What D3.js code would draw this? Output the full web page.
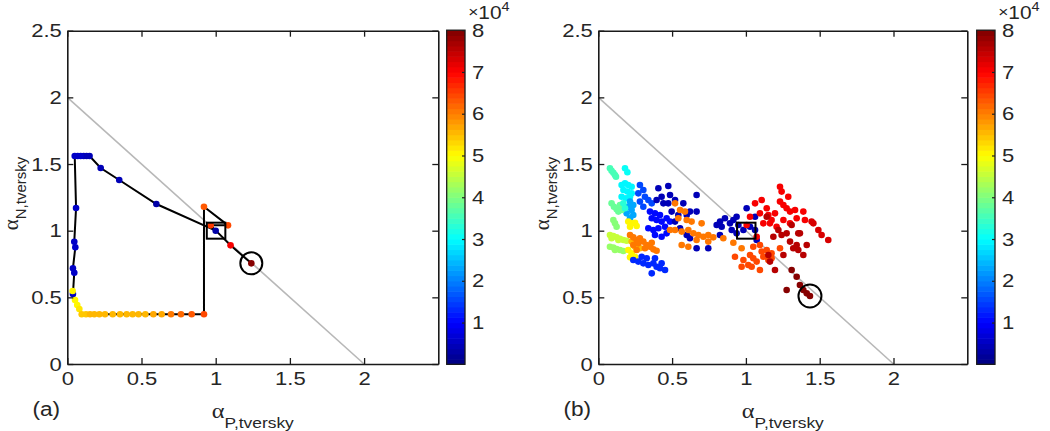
<!DOCTYPE html>
<html><head><meta charset="utf-8">
<script src="https://cdn.jsdelivr.net/npm/d3@7"></script>
<style>body{margin:0;background:#fff}</style>
</head><body>
<svg id="c" width="1050" height="431"></svg>
<script>
// ---------- data ----------
const xTicks = [0, 0.5, 1, 1.5, 2];
const yTicks = [0, 0.5, 1, 1.5, 2, 2.5];
const cbTicks = [1, 2, 3, 4, 5, 6, 7, 8];          // colorbar, in units of 1e4
const refLineX = [0, 2], refLineY = [2, 0];
const boxX = [0.94, 1.065], boxY = [0.94, 1.06];
const endA = [1.24, 0.755], endB = [1.434, 0.51];

// panel (a): trajectory, in order; value = iteration (x1e4)
const pathX = [1.00,0.60,0.35,0.225,0.15,0.13,0.11,0.09,0.07,0.05,0.059,0.047,0.054,0.038,0.047,0.038,
  0.036,0.052,0.067,0.081,
  0.097,0.126,0.153,0.182,0.216,0.254,0.306,0.355,0.40,0.44,0.48,0.526,0.58,0.636,0.699,0.766,0.838,0.921,
  0.921,1.083,0.966,1.10,1.24];
const pathY = [1.00,1.20,1.38,1.47,1.56,1.56,1.56,1.56,1.56,1.56,1.17,0.917,0.875,0.718,0.685,0.525,
  0.548,0.48,0.443,0.413,
  0.373,0.373,0.373,0.373,0.373,0.373,0.373,0.373,0.373,0.373,0.373,0.373,0.373,0.373,0.373,0.373,0.373,0.373,
  1.18,1.04,1.04,0.89,0.755];
const pathV = [0.3,0.35,0.4,0.4,0.45,0.45,0.45,0.5,0.5,0.5,0.5,0.55,0.55,0.6,0.6,0.6,
  5.0,5.05,5.1,5.15,
  5.45,5.47,5.5,5.5,5.52,5.54,5.55,5.56,5.58,5.6,5.6,5.62,5.65,5.7,6.1,6.2,6.3,6.4,
  6.25,6.4,6.6,7.0,7.9];

// panel (b): scatter groups [alphaP, alphaN]
const sAqua = [[0.079,1.468],[0.090,1.45],[0.102,1.435],[0.113,1.418],[0.120,1.405]];
const sCyan = [[0.181,1.468],[0.197,1.438]];
const sCyan2 = [[0.158,1.343],[0.181,1.355],[0.203,1.343],[0.226,1.33],[0.170,1.305],[0.197,1.293],[0.226,1.28],[0.158,1.255],[0.188,1.243],[0.215,1.255]];
const sSky = [[0.215,1.218],[0.237,1.193],[0.203,1.18],[0.226,1.155],[0.192,1.13],[0.237,1.118],[0.215,1.093]];
const sGreen = [[0.090,1.205],[0.106,1.18],[0.124,1.16],[0.147,1.193],[0.136,1.143],[0.158,1.155]];
const sTeal = [[0.170,1.205],[0.181,1.168]];
const sGreen2 = [[0.102,1.08],[0.113,1.055],[0.124,1.03]];
const sYellow = [[0.203,1.068],[0.226,1.055],[0.249,1.06],[0.215,1.03],[0.260,1.035]];
const sBlueA = [[0.282,1.343],[0.305,1.305],[0.271,1.28],[0.316,1.255],[0.282,1.218],[0.339,1.23],[0.305,1.18],[0.362,1.205]];
const sLime = [[0.079,0.968],[0.102,0.96],[0.124,0.95],[0.147,0.94],[0.170,0.93],[0.192,0.925],[0.090,0.943],[0.136,0.93]];
const sLime2 = [[0.079,0.88],[0.102,0.873],[0.124,0.863],[0.147,0.855],[0.170,0.848],[0.113,0.855]];
const sYellow2 = [[0.203,0.855],[0.226,0.83],[0.249,0.805],[0.215,0.8]];
const sGold = [[0.226,0.918],[0.249,0.88],[0.282,0.868]];
const sOrangeA = [[0.215,0.968],[0.237,0.95],[0.260,0.93],[0.282,0.943],[0.305,0.918],[0.328,0.893],[0.350,0.88],[0.373,0.86],[0.395,0.85],[0.271,0.905],[0.237,0.893],[0.260,0.855],[0.316,0.868],[0.362,0.91]];
const sBlueB = [[0.237,0.78],[0.271,0.768],[0.305,0.755],[0.339,0.743],[0.373,0.755],[0.395,0.73],[0.418,0.718],[0.452,0.705],[0.362,0.68],[0.328,0.793],[0.294,0.805],[0.384,0.793],[0.429,0.755]];
const sBlueC = [[0.350,1.143],[0.384,1.13],[0.418,1.118],[0.362,1.093],[0.395,1.08],[0.429,1.068],[0.463,1.093],[0.486,1.068],[0.452,1.03],[0.407,1.018],[0.373,1.005],[0.339,1.018],[0.384,0.968],[0.429,0.955],[0.463,0.98]];
const sNavy = [[0.407,1.318],[0.474,1.335],[0.429,1.255],[0.486,1.268],[0.441,1.205],[0.395,1.23],[0.474,1.205],[0.520,1.23],[0.576,1.205],[0.497,1.143],[0.542,1.118],[0.599,1.118],[0.666,1.268],[0.666,1.143],[0.520,1.068],[0.554,1.018],[0.599,0.968],[0.621,0.943],[0.666,0.868],[0.745,0.868],[0.802,1.043],[0.825,1.068],[0.858,1.093],[0.836,1.03],[0.621,1.143],
  [0.892,1.055],[0.915,1.08],[0.937,1.105],[1.005,1.168],[1.062,1.105],[0.983,1.005],[1.028,1.03],[1.062,1.005],[1.073,0.93],[0.937,0.98],[0.824,0.968],[0.949,1.043],[0.904,1.005]];
const sOrangeB = [[0.520,1.205],[0.554,1.155],[0.587,1.143],[0.542,1.093],[0.599,1.08],[0.632,1.068],[0.700,1.055],[0.486,1.005],[0.520,1.005],[0.565,0.993],[0.610,1.005],[0.644,0.98],[0.678,0.968],[0.712,0.955],[0.745,0.968],[0.779,0.95],[0.565,0.893],[0.610,0.88],[0.666,0.93],[0.745,0.918],[0.847,0.943],[0.915,0.91],[0.971,0.868]];
const sRedOrange = [[0.926,0.805],[0.983,0.78],[1.028,0.818],[1.050,0.793],[1.073,0.768],[1.016,0.743],[1.039,0.73],[1.095,0.705],[1.107,0.843],[1.141,0.855],[1.174,0.83],[1.050,0.88],[1.095,0.893],[1.118,0.805],[1.152,0.78],[0.971,0.73],[1.231,0.868],[1.174,0.793]];
const sRed = [[1.062,1.205],[1.107,1.23],[1.141,1.168],[1.152,1.118],[1.174,1.08],[1.163,1.055],[1.095,1.13],[1.197,1.13],[1.231,1.33],[1.242,1.293],[1.287,1.255],[1.231,1.218],[1.254,1.193],[1.276,1.168],[1.299,1.143],[1.333,1.155],[1.344,1.093],[1.254,1.08],[1.208,1.03],[1.299,1.055],[1.389,1.143],[1.400,1.08],[1.005,1.043],[1.028,1.105],[1.118,1.055],[1.073,0.955]];
const sRed2 = [[1.445,1.068],[1.457,1.055],[1.491,1.005],[1.513,0.968],[1.558,0.93]];
const sDarkRed = [[1.141,1.105],[1.220,1.005],[1.242,0.968],[1.276,0.98],[1.310,1.043],[1.355,0.98],[1.299,0.918],[1.344,0.893],[1.366,0.98],[1.186,0.955],[1.152,0.818],[1.163,0.768],[1.197,0.705],[1.254,0.818],[1.321,0.868],[1.355,0.855],[1.389,0.818],[1.412,0.893]];
const sMaroon = [[1.310,0.705],[1.344,0.655],[1.366,0.593],[1.389,0.555],[1.412,0.53],[1.434,0.51],[1.276,0.555]];
const groupValues = [3.6,3.0,2.9,2.3,3.8,3.3,4.0,5.0,1.5,4.5,4.2,5.1,5.5,6.0,1.3,1.0,0.45,6.0,6.4,7.0,7.3,7.6,7.95];
const groups = [sAqua,sCyan,sCyan2,sSky,sGreen,sTeal,sGreen2,sYellow,sBlueA,sLime,sLime2,sYellow2,sGold,sOrangeA,sBlueB,sBlueC,sNavy,sOrangeB,sRedOrange,sRed,sRed2,sDarkRed,sMaroon];

// ---------- drawing ----------
const W = 1050, H = 431;
const FONT = "'Liberation Sans', Arial, Helvetica, sans-serif";
const SERIF = "'Liberation Serif', 'Times New Roman', serif";
const SX = 1.16, FS = 19, INK = "#262626", MR = 3.3;
const svg = d3.select("#c");
svg.append("rect").attr("width", W).attr("height", H).attr("fill", "#fff");

const jetBase = d3.scaleLinear().domain([0,1,3,5,7,8])
  .range(["#00007f","#0000ff","#00ffff","#ffff00","#ff0000","#7f0000"]).clamp(true);
const jet = v => { const i = Math.min(63, Math.max(0, Math.floor(v / 8 * 64))); return jetBase((i + 0.5) * 8 / 64); };

function stretch(sel) {
  sel.each(function () {
    const t = d3.select(this);
    const x = +t.attr("x") || 0, y = +t.attr("y") || 0;
    t.attr("transform", `translate(${x},${y}) scale(${SX},1) translate(${-x},${-y})`);
  });
}

function styleAxis(g) {
  g.attr("font-family", FONT).attr("font-size", FS);
  g.select(".domain").attr("stroke", "#1a1a1a").attr("stroke-width", 1.6);
  g.selectAll(".tick line").attr("stroke", "#1a1a1a").attr("stroke-width", 1.3);
  g.selectAll(".tick text").attr("fill", INK);
  stretch(g.selectAll(".tick text"));
}

function panel(left, width, cbLeft, tag, content) {
  const x = d3.scaleLinear().domain([0, 2.5]).range([left, left + width]);
  const y = d3.scaleLinear().domain([0, 2.5]).range([364, 30.7]);
  const g = svg.append("g");
  g.append("line")
    .attr("x1", x(refLineX[0])).attr("y1", y(refLineY[0]))
    .attr("x2", x(refLineX[1])).attr("y2", y(refLineY[1]))
    .attr("stroke", "#b8b8b8").attr("stroke-width", 1.6);
  content(g, x, y);

  const gb = g.append("g").attr("transform", `translate(0,${y(0)})`)
    .call(d3.axisBottom(x).tickValues(xTicks).tickSizeInner(-6).tickSizeOuter(0).tickPadding(8).tickFormat(d3.format("")));
  styleAxis(gb);
  const gt = g.append("g").attr("transform", `translate(0,${y(2.5)})`)
    .call(d3.axisTop(x).tickValues(xTicks).tickSizeInner(-6).tickSizeOuter(0).tickFormat(() => ""));
  styleAxis(gt);
  const gl = g.append("g").attr("transform", `translate(${x(0)},0)`)
    .call(d3.axisLeft(y).tickValues(yTicks).tickSizeInner(-6).tickSizeOuter(0).tickPadding(5.5).tickFormat(d3.format("")));
  styleAxis(gl);
  const gr = g.append("g").attr("transform", `translate(${x(2.5)},0)`)
    .call(d3.axisRight(y).tickValues(yTicks).tickSizeInner(-6).tickSizeOuter(0).tickFormat(() => ""));
  styleAxis(gr);

  // x label
  const xl = g.append("text").attr("x", (x(0) + x(2.5)) / 2).attr("y", 418)
    .attr("text-anchor", "middle").attr("fill", INK);
  xl.append("tspan").attr("font-family", SERIF).attr("font-size", 21).text("α");
  xl.append("tspan").attr("font-family", FONT).attr("font-size", 15).attr("dy", 10).text("P,tversky");
  stretch(xl);

  // y label
  const yl = g.append("text").attr("transform", `translate(${x(0) - 49.3},193.5) rotate(-90)`)
    .attr("text-anchor", "middle").attr("fill", INK);
  yl.append("tspan").attr("font-family", SERIF).attr("font-size", 21).text("α");
  yl.append("tspan").attr("font-family", FONT).attr("font-size", 15).attr("dy", 7.5).text("N,tversky");

  // panel tag
  const tg = g.append("text").attr("x", x(0) - 21).attr("y", 416).attr("text-anchor", "middle")
    .attr("font-family", FONT).attr("font-size", 19.5).attr("fill", INK).text(tag);
  stretch(tg);

  // colorbar
  const cw = 18.3;
  const cy = d3.scaleLinear().domain([0, 8]).range([364.3, 30.2]);
  const bands = d3.range(64);
  g.append("g").selectAll("rect").data(bands).join("rect")
    .attr("x", cbLeft).attr("width", cw)
    .attr("y", i => cy((i + 1) * 8 / 64))
    .attr("height", i => cy(i * 8 / 64) - cy((i + 1) * 8 / 64) + 0.6)
    .attr("fill", i => jet((i + 0.5) * 8 / 64));
  g.append("rect").attr("x", cbLeft).attr("y", cy(8)).attr("width", cw).attr("height", cy(0) - cy(8))
    .attr("fill", "none").attr("stroke", "#1a1a1a").attr("stroke-width", 1.3);
  const gc = g.append("g").attr("transform", `translate(${cbLeft + cw},0)`)
    .call(d3.axisRight(cy).tickValues(cbTicks).tickSizeInner(-3).tickSizeOuter(0).tickPadding(7));
  gc.attr("font-family", FONT).attr("font-size", FS);
  gc.select(".domain").remove();
  gc.selectAll(".tick line").attr("stroke", "#222").attr("stroke-width", 1.2);
  gc.selectAll(".tick text").attr("fill", INK);
  stretch(gc.selectAll(".tick text"));
  const ex = g.append("text").attr("x", cbLeft + 21.5).attr("y", 19).attr("fill", INK).attr("font-family", FONT);
  ex.append("tspan").attr("font-size", 15).attr("dy", -2).text("×");
  ex.append("tspan").attr("font-size", 18).attr("dy", 2).text("10");
  ex.append("tspan").attr("font-size", 12.5).attr("dy", -8).text("4");
  stretch(ex);
}

// panel (a)
panel(67.3, 371, 446.7, "(a)", (g, x, y) => {
  const idx = d3.range(pathX.length);
  g.append("path").datum(idx)
    .attr("d", d3.line().x(i => x(pathX[i])).y(i => y(pathY[i])))
    .attr("fill", "none").attr("stroke", "#000").attr("stroke-width", 2);
  g.append("g").selectAll("circle").data(idx).join("circle")
    .attr("cx", i => x(pathX[i])).attr("cy", i => y(pathY[i])).attr("r", MR)
    .attr("fill", i => jet(pathV[i]));
  g.append("rect").attr("x", x(boxX[0])).attr("y", y(boxY[1]))
    .attr("width", x(boxX[1]) - x(boxX[0])).attr("height", y(boxY[0]) - y(boxY[1]))
    .attr("fill", "none").attr("stroke", "#000").attr("stroke-width", 2);
  g.append("circle").attr("cx", x(endA[0])).attr("cy", y(endA[1])).attr("r", 11)
    .attr("fill", "none").attr("stroke", "#000").attr("stroke-width", 2);
});

// panel (b)
panel(598.3, 369, 976.7, "(b)", (g, x, y) => {
  groups.forEach((pts, k) => {
    g.append("g").selectAll("circle").data(pts).join("circle")
      .attr("cx", d => x(d[0])).attr("cy", d => y(d[1])).attr("r", MR)
      .attr("fill", jet(groupValues[k]));
  });
  g.append("rect").attr("x", x(boxX[0])).attr("y", y(boxY[1]))
    .attr("width", x(boxX[1]) - x(boxX[0])).attr("height", y(boxY[0]) - y(boxY[1]))
    .attr("fill", "none").attr("stroke", "#000").attr("stroke-width", 2);
  g.append("circle").attr("cx", x(endB[0])).attr("cy", y(endB[1])).attr("r", 11.5)
    .attr("fill", "none").attr("stroke", "#000").attr("stroke-width", 2);
});
</script>
</body></html>
